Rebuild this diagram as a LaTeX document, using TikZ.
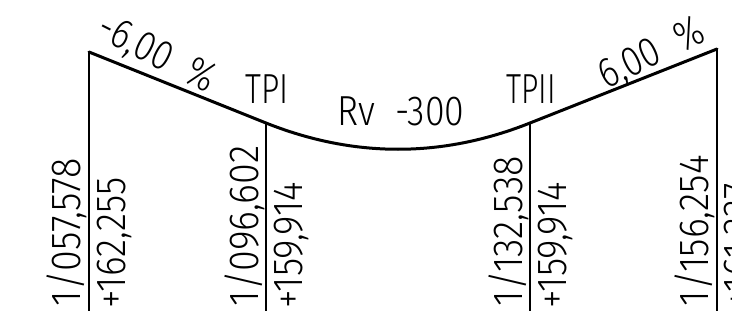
\documentclass[tikz,border=0pt]{standalone}
\usepackage{fontspec}
\setmainfont{Fira Sans Light}
\newcommand{\nrw}[2][0.90]{\scalebox{#1}[1]{#2}}
\tikzset{
  lbl/.style={inner sep=0pt,outer sep=0pt,font=\fontsize{42}{42}\selectfont},
  vlbl/.style={lbl,rotate=90,anchor=base west},
  guide/.style={line width=1.2pt,black},
  road/.style={line width=3pt,black,line cap=round,line join=round}
}
\begin{document}
\begin{tikzpicture}[x=1pt,y=-1pt]
\useasboundingbox (0,0) rectangle (732,324);
\clip (0,0) rectangle (732,324);
\coordinate (A) at (89,52);
\coordinate (B) at (266,123);
\coordinate (C) at (530,123);
\coordinate (D) at (717,49);
\coordinate (Ab) at (89,311);
\coordinate (Bb) at (266,311);
\coordinate (Cb) at (530,311);
\coordinate (Db) at (717,311);
\draw[guide] (A)--(Ab);
\draw[guide] (B)--(Bb);
\draw[guide] (C)--(Cb);
\draw[guide] (D)--(Db);
\draw[road] (A)--(B) .. controls (354,158) and (442,158) .. (C)--(D);
\node[lbl,anchor=base,rotate=-27] (s1) at (151,65) {\nrw[0.84]{-6,00\ \ \%}};
\node[lbl,anchor=base,rotate=26] (s2) at (657,65) {\nrw[0.84]{6,00\ \ \%}};
\node[lbl,anchor=base] (t1) at (267,103) {\nrw[0.76]{TPI}};
\node[lbl,anchor=base] (t2) at (531,103) {\nrw[0.72]{TPII}};
\node[lbl,anchor=base] (rv) at (401,125) {\nrw[0.85]{Rv\ \ -300}};
\node[vlbl] (a1) at (80,306) {\nrw{1/057,578}};
\node[vlbl] (a2) at (125,308) {\nrw[0.89]{+162,255}};
\node[vlbl] (b1) at (258,306) {\nrw{1/096,602}};
\node[vlbl] (b2) at (302,308) {\nrw[0.89]{+159,914}};
\node[vlbl] (c1) at (522,306) {\nrw{1/132,538}};
\node[vlbl] (c2) at (566,308) {\nrw[0.89]{+159,914}};
\node[vlbl] (d1) at (708,306) {\nrw{1/156,254}};
\node[vlbl] (d2) at (752,308) {\nrw[0.89]{+161,337}};
\end{tikzpicture}
\end{document}
